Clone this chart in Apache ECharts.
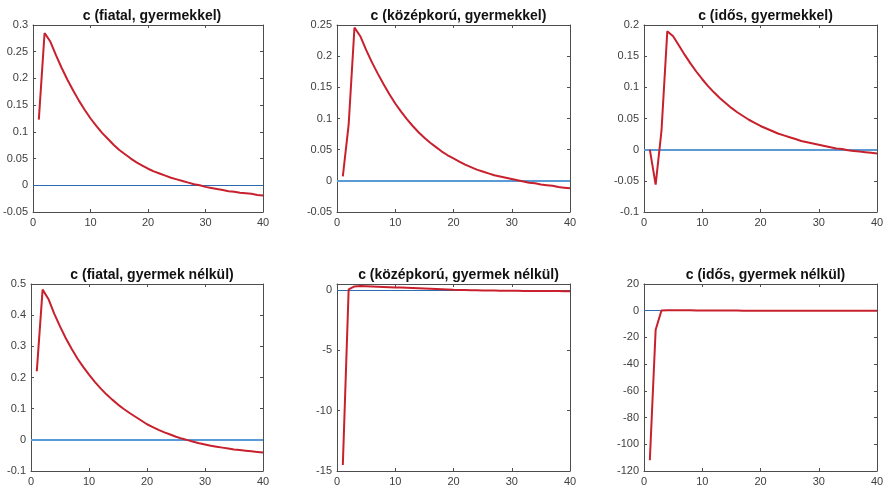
<!DOCTYPE html>
<html lang="hu">
<head>
  <meta charset="UTF-8">
  <title>c impulzusválaszok</title>
  <style>
    * { margin: 0; padding: 0; }
    body { background: #ffffff; }
    #main { width: 887px; height: 488px; }
  </style>
</head>
<body>
<div id="main"></div>
<script src="https://cdn.jsdelivr.net/npm/echarts@6/dist/echarts.min.js"></script>
<script>
  // periódusok (x tengely)
  const periods = [1, 2, 3, 4, 5, 6, 7, 8, 9, 10, 11, 12, 13, 14, 15, 16, 17, 18, 19, 20,
    21, 22, 23, 24, 25, 26, 27, 28, 29, 30, 31, 32, 33, 34, 35, 36, 37, 38, 39, 40];

  const titles = [
    'c (fiatal, gyermekkel)',
    'c (középkorú, gyermekkel)',
    'c (idős, gyermekkel)',
    'c (fiatal, gyermek nélkül)',
    'c (középkorú, gyermek nélkül)',
    'c (idős, gyermek nélkül)'
  ];

  // y tengelyek: [min, max, lépés]
  const yRanges = [
    [-0.05, 0.3, 0.05],
    [-0.05, 0.25, 0.05],
    [-0.1, 0.2, 0.05],
    [-0.1, 0.5, 0.1],
    [-15, 0.5, 5],
    [-120, 20, 20]
  ];

  const fiatalGyermekkel = [0.123, 0.285, 0.269, 0.243, 0.219, 0.197, 0.177, 0.158, 0.141, 0.125,
    0.111, 0.098, 0.087, 0.076, 0.066, 0.058, 0.050, 0.043, 0.037, 0.031,
    0.026, 0.022, 0.018, 0.014, 0.011, 0.008, 0.005, 0.002, 0.000, -0.003,
    -0.005, -0.007, -0.009, -0.011, -0.012, -0.014, -0.015, -0.016, -0.018, -0.019];

  const kozepkoruGyermekkel = [0.007, 0.090, 0.246, 0.232, 0.210, 0.190, 0.172, 0.155, 0.139, 0.124,
    0.111, 0.099, 0.088, 0.078, 0.069, 0.061, 0.054, 0.047, 0.041, 0.036,
    0.031, 0.026, 0.022, 0.018, 0.015, 0.012, 0.009, 0.007, 0.005, 0.003,
    0.001, -0.001, -0.003, -0.004, -0.006, -0.007, -0.008, -0.010, -0.011, -0.012];

  const idosGyermekkel = [0.000, -0.056, 0.030, 0.190, 0.182, 0.167, 0.152, 0.138, 0.125, 0.113,
    0.102, 0.092, 0.083, 0.075, 0.067, 0.060, 0.054, 0.048, 0.043, 0.038,
    0.034, 0.030, 0.026, 0.023, 0.020, 0.017, 0.014, 0.012, 0.010, 0.008,
    0.006, 0.004, 0.002, 0.001, -0.001, -0.002, -0.003, -0.004, -0.005, -0.006];

  const fiatalNelkul = [0.220, 0.482, 0.452, 0.405, 0.364, 0.326, 0.292, 0.261, 0.234, 0.209,
    0.186, 0.165, 0.146, 0.129, 0.113, 0.099, 0.086, 0.074, 0.062, 0.050,
    0.041, 0.032, 0.024, 0.017, 0.010, 0.004, -0.001, -0.006, -0.011, -0.015,
    -0.019, -0.022, -0.025, -0.028, -0.031, -0.033, -0.035, -0.037, -0.039, -0.041];

  const kozepkoruNelkul = [-14.5, 0.05, 0.30, 0.33, 0.32, 0.30, 0.28, 0.26, 0.24, 0.22,
    0.20, 0.18, 0.16, 0.14, 0.12, 0.10, 0.08, 0.06, 0.04, 0.02,
    0.01, 0.00, -0.01, -0.02, -0.03, -0.03, -0.04, -0.05, -0.05, -0.06,
    -0.06, -0.07, -0.07, -0.08, -0.08, -0.08, -0.09, -0.09, -0.10, -0.10];

  const idosNelkul = [-112, -14.3, 0.2, 0.4, 0.4, 0.35, 0.3, 0.3, 0.25, 0.2,
    0.2, 0.15, 0.15, 0.1, 0.1, 0.1, 0.05, 0.05, 0.05, 0.0,
    0.0, 0.0, 0.0, 0.0, 0.0, 0.0, 0.0, 0.0, 0.0, 0.0,
    0.0, 0.0, 0.0, 0.0, 0.0, 0.0, 0.0, 0.0, 0.0, 0.0];

  const allSeries = [fiatalGyermekkel, kozepkoruGyermekkel, idosGyermekkel,
    fiatalNelkul, kozepkoruNelkul, idosNelkul];

  // elrendezés
  const lefts = [31, 337, 644];
  const widths = [232, 233, 233];
  const tops = [25, 284];
  const plotH = 187;
  const zeroColors = ['#2A6BB0', '#5B9BD5', '#5B9BD5', '#5B9BD5', '#2E6DB4', '#2E6DB4'];
  const zeroWidths = [1, 2, 2, 2, 1.2, 1.2];
  const font = '"Liberation Sans", Arial, Helvetica, sans-serif';
  const axisColor = '#4d4d4d';

  var grid = [], xAxis = [], yAxis = [], series = [], title = [];

  allSeries.forEach(function (vals, i) {
    const col = i % 3, row = Math.floor(i / 3);
    grid.push({ left: lefts[col], top: tops[row], width: widths[col], height: plotH });

    title.push({
      text: titles[i],
      left: lefts[col] + widths[col] / 2,
      top: tops[row] - 21,
      textAlign: 'center',
      textStyle: { fontFamily: font, fontSize: 14, fontWeight: 'bold', color: '#111' }
    });

    const common = {
      gridIndex: i,
      axisLine: { show: true, onZero: false, lineStyle: { color: axisColor, width: 1 } },
      axisTick: { show: true, inside: true, length: 3, lineStyle: { color: axisColor } },
      splitLine: { show: false }
    };
    // x tengely alul + felül (tükrözött)
    xAxis.push(Object.assign({}, common, {
      type: 'value', position: 'bottom', min: 0, max: 40, interval: 10,
      axisLabel: { color: '#404040', fontFamily: font, fontSize: 11, margin: 5 }
    }));
    xAxis.push(Object.assign({}, common, {
      type: 'value', position: 'top', min: 0, max: 40, interval: 10,
      axisLabel: { show: false }
    }));
    const yr = yRanges[i];
    yAxis.push(Object.assign({}, common, {
      type: 'value', position: 'left', min: yr[0], max: yr[1], interval: yr[2],
      axisLabel: { color: '#404040', fontFamily: font, fontSize: 11, margin: 5, showMaxLabel: i !== 4 }
    }));
    yAxis.push(Object.assign({}, common, {
      type: 'value', position: 'right', min: yr[0], max: yr[1], interval: yr[2],
      axisLabel: { show: false }
    }));

    // nulla vonal
    series.push({
      type: 'line',
      xAxisIndex: i * 2,
      yAxisIndex: i * 2,
      data: [],
      silent: true,
      z: 1,
      markLine: {
        silent: true,
        z: 1,
        symbol: 'none',
        label: { show: false },
        lineStyle: { color: zeroColors[i], width: zeroWidths[i], type: 'solid' },
        data: [{ yAxis: 0 }]
      }
    });
    // görbe
    series.push({
      type: 'line',
      xAxisIndex: i * 2,
      yAxisIndex: i * 2,
      data: periods.map(function (p, k) { return [p, vals[k]]; }),
      symbol: 'none',
      z: 3,
      lineStyle: { color: '#C8202C', width: 2 },
      itemStyle: { color: '#C8202C' }
    });
  });

  var myChart = echarts.init(document.getElementById('main'));
  myChart.setOption({
    animation: false,
    backgroundColor: '#ffffff',
    title: title,
    grid: grid,
    xAxis: xAxis,
    yAxis: yAxis,
    series: series
  });
</script>
</body>
</html>
